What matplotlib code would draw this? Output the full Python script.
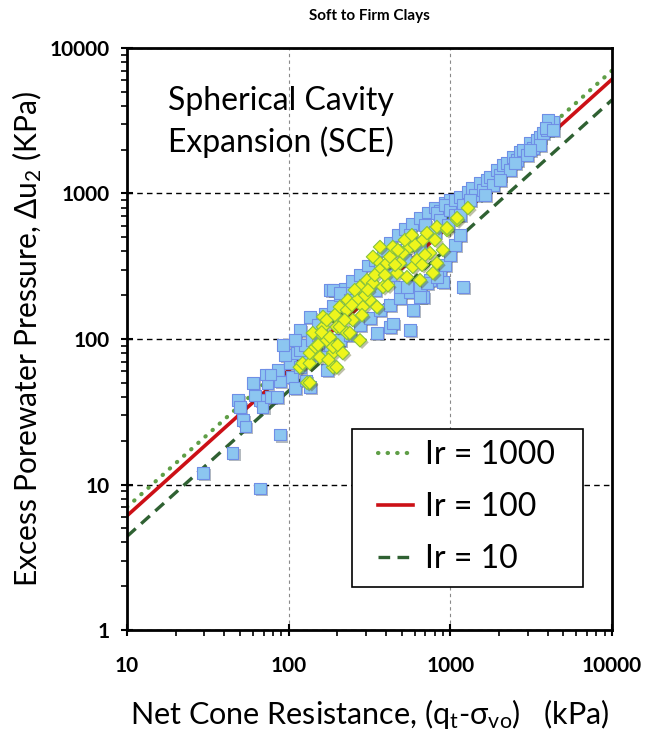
import matplotlib
matplotlib.use("Agg")
import matplotlib.pyplot as plt
import matplotlib.patheffects as pe
from matplotlib.patches import Rectangle
from matplotlib.ticker import LogLocator, NullFormatter, FixedLocator

plt.rcParams['font.family'] = ['Lato', 'DejaVu Sans']
plt.rcParams['mathtext.fontset'] = 'custom'
plt.rcParams['mathtext.rm'] = 'Lato'
plt.rcParams['mathtext.it'] = 'Lato'
plt.rcParams['mathtext.fallback'] = 'stixsans'

# blue squares: all soft to firm clay data
qnet_blue = [29.5, 66.5, 45, 88, 52, 54, 48.6, 50, 66.5, 69, 60, 74, 72, 86, 88, 77, 85,
             105, 109, 102, 117, 128, 135, 128, 113, 117, 172, 125, 139, 152, 160, 141, 174,
             156, 167, 188, 207, 222, 246, 276, 309, 341, 383, 423, 474, 523, 578, 649, 727,
             803, 862, 924, 995, 180, 135, 188, 207,
             180, 207, 239, 276, 318, 367, 423, 488, 562, 649, 748, 862, 924, 995, 1069, 1146,
             1196, 899, 677, 586, 562, 423, 441, 352, 488, 539, 717, 826, 649,
             826, 862, 924, 995, 1069, 1146, 1196, 1284, 1359, 1418, 1524, 1590, 1683, 1757,
             1833, 1942, 2026, 2114, 2240, 2337, 2438, 2582, 2693, 2810, 2976, 3105, 3240,
             3430, 3580, 3735, 3955, 4128, 4310, 4010, 3580, 3870, 4310, 3105, 2510, 2026,
             1635, 1321, 1069, 967, 1146,
             239, 297, 367, 455, 562, 697, 276, 341, 423, 523, 649, 803, 152, 117, 109, 95,
             92, 77, 62]
du2_blue = [12.0, 9.4, 16.5, 22, 27.8, 25, 38, 34, 38, 34, 50, 50, 57, 61, 51, 40, 40,
            55, 46, 68, 64, 72, 47, 52, 80, 84, 61, 91, 98, 106, 84, 78, 91,
            125, 150, 170, 200, 220, 250, 275, 320, 350, 410, 460, 520, 570, 620, 680, 740,
            800, 760, 860, 902, 217, 142, 217, 207,
            91, 98, 106, 125, 140, 158, 171, 191, 210, 224, 254, 275, 323, 378, 443, 518,
            228, 246, 194, 158, 115, 121, 128, 110, 228, 228, 242, 266, 194,
            735, 657, 834, 770, 902, 945, 834, 1024, 1091, 976, 1179, 1057, 1238, 1299,
            1145, 1451, 1340, 1570, 1620, 1451, 1782, 1699, 1928, 1990, 1838, 2222, 2055,
            2332, 2446, 2603, 2731, 2866, 3100, 3200, 2150, 2820, 2731, 1990, 1620, 1238,
            976, 902, 712, 607, 712,
            185, 234, 323, 409, 518, 607, 185, 217, 275, 349, 409, 544, 125, 115, 98, 78,
            91, 57, 41]

# yellow diamonds: subset of sites
qnet_yellow = [117, 130, 141, 156, 188, 198, 122, 135, 135, 141, 163, 172, 188, 198, 207, 229,
               135, 146, 163, 160, 180, 207, 229, 232, 249, 264, 276, 288, 305, 318, 332, 352,
               367, 383, 405, 423, 441, 468, 488, 509, 539, 562, 586, 621, 649, 677, 717, 748,
               780, 826, 899, 953, 826, 1100, 367, 332, 352, 188, 156, 216, 239, 276, 1284,
               1100, 953, 172, 256, 297, 341, 394, 455, 523, 603, 697, 803, 222, 193, 152,
               176, 201, 246, 284, 309, 411, 474, 578, 668]
du2_yellow = [64, 50, 80, 110, 64, 121, 68, 68, 50, 110, 121, 98, 80, 64, 121, 110,
              80, 88, 142, 111, 103, 166, 158, 185, 135, 185, 228, 166, 254, 185, 242, 349,
              298, 228, 332, 367, 429, 284, 332, 390, 266, 429, 313, 349, 254, 479, 534, 390,
              284, 332, 409, 561, 589, 657, 429, 367, 166, 88, 75, 80, 110, 98, 795,
              679, 579, 135, 217, 200, 275, 275, 323, 479, 443, 378, 479, 135, 146, 91,
              72, 91, 171, 146, 217, 234, 409, 518, 323]

# theoretical SCE lines (rigidity index Ir)
line_q = [10, 10000]
ir1000 = [7.0, 7000]
ir100 = [6.1, 6100]
ir10 = [4.4, 4400]

fig = plt.figure(figsize=(6.7, 7.36), dpi=100)
ax = fig.add_axes([0.1896, 0.144, 0.7239, 0.7908])

ax.set_xscale('log')
ax.set_yscale('log')
ax.set_xlim(10, 10000)
ax.set_ylim(1, 10000)

ax.xaxis.grid(True, which='major', linestyle=(0, (3, 3)), color='#8a8a8a', linewidth=0.8)
ax.yaxis.grid(True, which='major', linestyle=(0, (4, 3)), color='black', linewidth=1.0)
ax.set_axisbelow(True)

ax.plot(line_q, ir1000, linestyle=(0, (0.1, 2.2)), dash_capstyle='round', color='#5f9e46',
        linewidth=3.0, label='Ir = 1000', zorder=2)
ax.plot(line_q, ir100, linestyle='-', color='#cc1016', linewidth=2.6, label='Ir = 100', zorder=2)
ax.plot(line_q, ir10, linestyle=(0, (3.5, 2.2)), color='#2f6132', linewidth=2.4,
        label='Ir = 10', zorder=2)

shadow = [pe.SimplePatchShadow(offset=(1.5, -1.5), alpha=0.35), pe.Normal()]
sb = ax.scatter(qnet_blue, du2_blue, marker='s', s=70, facecolor='#8cc6f0',
                edgecolor='#6f8fe6', linewidth=0.8, zorder=3)
sb.set_path_effects(shadow)
sy = ax.scatter(qnet_yellow, du2_yellow, marker='D', s=46, facecolor='#eef51c',
                edgecolor='#86c23e', linewidth=0.8, zorder=4)
sy.set_path_effects(shadow)

ax.xaxis.set_major_locator(FixedLocator([10, 100, 1000, 10000]))
ax.yaxis.set_major_locator(FixedLocator([1, 10, 100, 1000, 10000]))
ax.set_xticklabels(['10', '100', '1000', '10000'])
ax.set_yticklabels(['1', '10', '100', '1000', '10000'])
ax.xaxis.set_minor_locator(LogLocator(base=10, subs=range(2, 10)))
ax.yaxis.set_minor_locator(LogLocator(base=10, subs=range(2, 10)))
ax.xaxis.set_minor_formatter(NullFormatter())
ax.yaxis.set_minor_formatter(NullFormatter())
ax.tick_params(which='major', direction='inout', length=9, width=1.5, labelsize=15)
ax.tick_params(which='minor', direction='out', length=4, width=1.2)
ax.tick_params(axis='x', which='major', pad=14)
ax.tick_params(axis='y', which='major', pad=8)
for lab in ax.get_xticklabels() + ax.get_yticklabels():
    lab.set_fontweight('bold')

for sp in ax.spines.values():
    sp.set_linewidth(2.0)
    sp.set_color('black')

ax.set_xlabel(r'Net Cone Resistance, $\mathregular{(q_t}$-$\mathregular{\sigma_{vo})}$   (kPa)',
              fontsize=22, labelpad=15)
ax.set_ylabel(r'Excess Porewater Pressure, $\mathregular{\Delta u_2}$ (KPa)', fontsize=21.5,
              labelpad=4)

ax.text(0.085, 0.935, 'Spherical Cavity\nExpansion (SCE)', transform=ax.transAxes,
        fontsize=23, va='top', ha='left', linespacing=1.4, zorder=5)

# legend box drawn separately so the padding can match
box = Rectangle((0.464, 0.074), 0.476, 0.271, transform=ax.transAxes, facecolor='white',
                edgecolor='black', linewidth=1.2, zorder=6)
ax.add_patch(box)
leg = ax.legend(loc='center left', bbox_to_anchor=(0.5175, 0.211), fontsize=23, frameon=False,
                handlelength=1.1, handletextpad=0.37, labelspacing=0.68, borderpad=0,
                borderaxespad=0)
leg.set_zorder(7)

fig.text(0.551, 1 - 16 / 736, 'Soft to Firm Clays', fontsize=11, fontweight='bold',
         ha='center', va='center')

fig.savefig('out.png', dpi=100)
